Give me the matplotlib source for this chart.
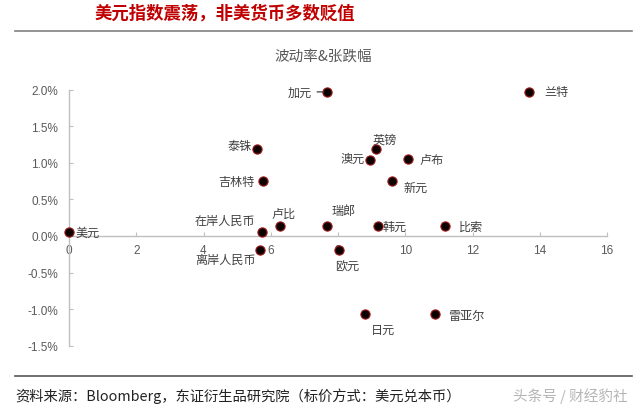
import matplotlib
matplotlib.use('Agg')
import matplotlib.pyplot as plt
from matplotlib.lines import Line2D
from matplotlib.ticker import FuncFormatter

plt.rcParams['font.family'] = ['Noto Sans CJK SC', 'DejaVu Sans']

# data: volatility (x) and change in % (y)
names = ['美元', '在岸人民币', '离岸人民币', '卢比', '瑞郎', '欧元', '韩元', '比索', '日元',
         '雷亚尔', '加元', '泰铢', '吉林特', '英镑', '澳元', '卢布', '新元', '兰特']
vol = [0.0, 5.73, 5.68, 6.27, 7.68, 8.04, 9.18, 11.19, 8.81,
       10.87, 7.66, 5.60, 5.78, 9.14, 8.94, 10.09, 9.62, 13.69]
chg = [0.05, 0.05, -0.19, 0.14, 0.14, -0.19, 0.14, 0.14, -1.07,
       -1.07, 1.97, 1.19, 0.75, 1.19, 1.04, 1.05, 0.75, 1.97]

# label placement (pixel offsets, horizontal alignment)
offsets = {
    '美元': (6, 0, 'left'), '在岸人民币': (-6, 12, 'right'), '离岸人民币': (-4, -9, 'right'),
    '卢比': (4, 12, 'center'), '瑞郎': (16, 15, 'center'), '欧元': (8, -16, 'center'),
    '韩元': (5, -1, 'left'), '比索': (14, -1, 'left'), '日元': (18, -15, 'center'),
    '雷亚尔': (14, -1, 'left'), '加元': (-15, 0, 'right'), '泰铢': (-6, 3, 'right'),
    '吉林特': (-9, 0, 'right'), '英镑': (8, 10, 'center'), '澳元': (-5, 2, 'right'),
    '卢布': (11, 0, 'left'), '新元': (11, -6, 'left'), '兰特': (15, 0, 'left'),
}

fig = plt.figure(figsize=(6.4, 4.1), dpi=100)
ax = fig.add_axes([69 / 640, 63.3 / 410, 538 / 640, 256 / 410])

ax.scatter(vol, chg, s=44, facecolor='#0d0000', edgecolor='#9b1b1b', linewidth=0.8, zorder=3, clip_on=False)

px = 72 / 100
for n, x, y in zip(names, vol, chg):
    dx, dy, ha = offsets[n]
    arrow = dict(arrowstyle='-', color='#404040', lw=0.9, shrinkA=2, shrinkB=2) if n == '加元' else None
    ax.annotate(n, (x, y), xytext=(dx * px, dy * px), textcoords='offset points',
                ha=ha, va='center', fontsize=8.7, color='#404040', arrowprops=arrow)

ax.set_xlim(0, 16)
ax.set_ylim(-1.5, 2.0)
ax.set_xticks(range(0, 17, 2))
ax.set_yticks([-1.5, -1.0, -0.5, 0.0, 0.5, 1.0, 1.5, 2.0])
ax.yaxis.set_major_formatter(FuncFormatter(lambda v, p: '%.1f%%' % v))

ax.spines['top'].set_visible(False)
ax.spines['right'].set_visible(False)
ax.spines['bottom'].set_position(('data', 0))
for s in ['left', 'bottom']:
    ax.spines[s].set_color('#bfbfbf')
    ax.spines[s].set_linewidth(1.0)

ax.tick_params(axis='both', direction='in', length=3, color='#bfbfbf', labelcolor='#595959', labelsize=8.5)
ax.tick_params(axis='x', pad=6)
ax.tick_params(axis='y', pad=8)
for lab in ax.get_xticklabels() + ax.get_yticklabels():
    lab.set_family('Liberation Sans')

fig.text(323 / 640, 1 - 57 / 410, '波动率&张跌幅', ha='center', va='center', fontsize=10.5, color='#595959')

# header / footer
fig.text(225 / 640, 1 - 14 / 410, '美元指数震荡，非美货币多数贬值', ha='center', va='center',
         fontsize=12.5, fontweight='bold', color='#c00000')
fig.add_artist(Line2D([15 / 640, 632 / 640], [1 - 31.5 / 410] * 2, color='#808080', lw=1.2))
fig.add_artist(Line2D([15 / 640, 632 / 640], [1 - 376.7 / 410] * 2, color='#555555', lw=1.2))
fig.text(15 / 640, 1 - 396 / 410, '资料来源：Bloomberg，东证衍生品研究院（标价方式：美元兑本币）',
         ha='left', va='center', fontsize=10.3, color='#222222')
fig.text(628 / 640, 1 - 396 / 410, '头条号 / 财经豹社', ha='right', va='center', fontsize=10.5, color='#b5b5b5')

fig.savefig('out.png', dpi=100)
